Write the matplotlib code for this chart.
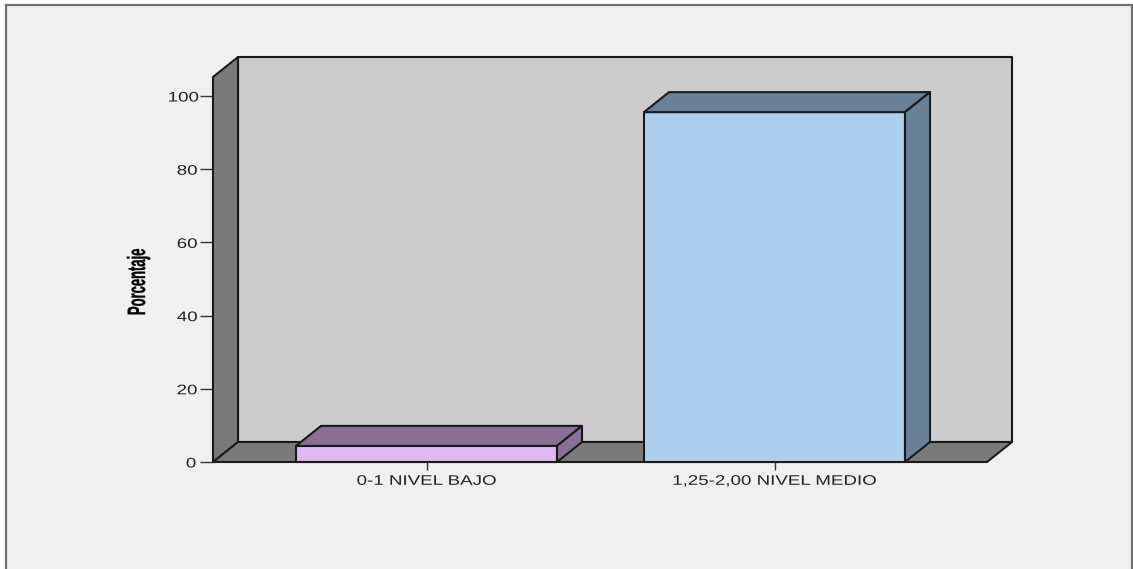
#!/usr/bin/env python3
# -*- encoding: utf-8 -*-

import matplotlib
matplotlib.use('Agg')
import matplotlib.pyplot as plt
from matplotlib.patches import Polygon, Rectangle
from matplotlib.patheffects import AbstractPathEffect
from matplotlib.transforms import Affine2D

W, H = 1133, 569

categories = ['0-1 NIVEL BAJO', '1,25-2,00 NIVEL MEDIO']
percent = [4.4, 95.6]
y_ticks = [0, 20, 40, 60, 80, 100]

front_colors = ['#E0B8F2', '#ADCFEE']
top_colors = ['#8A7094', '#6A8098']
wall_color = '#CCCCCC'
side_wall_color = '#7A7A7A'
panel_color = '#F0F0F0'
edge = '#1A1A1A'

plt.rcParams['font.family'] = ['Liberation Sans', 'DejaVu Sans']

# the original picture was resized unevenly, so glyphs get stretched along the text
class Stretch(AbstractPathEffect):
    def __init__(self, sx, stroke = 0):
        super().__init__()
        self.sx = sx
        self.stroke = stroke

    def draw_path(self, renderer, gc, tpath, affine, rgbFace = None):
        box = tpath.get_extents()
        cx = (box.x0 + box.x1) / 2
        local = Affine2D().translate(-cx, 0).scale(self.sx, 1).translate(cx, 0)
        gc.set_linewidth(self.stroke)
        renderer.draw_path(gc, tpath, local + affine, rgbFace)

fig = plt.figure(figsize = (W / 100, H / 100), dpi = 100, facecolor = 'white')

# outer panel, open at the bottom of the picture
fig.add_artist(Rectangle((6 / W, -0.02), (1132 - 6) / W, 1.02 - 5 / H, transform = fig.transFigure,
                         facecolor = panel_color, edgecolor = '#707070', linewidth = 1.6, zorder = -1))

ax = fig.add_axes([213 / W, 1 - 462 / H, (987 - 213) / W, (462 - 77) / H])
ax.set_xlim(-0.6135, 1.6106)
ax.set_ylim(0, 105.2)
ax.patch.set_visible(False)
for s in ax.spines.values():
    s.set_visible(False)

# depth of the fake 3d box, in data units
xmin, xmax = ax.get_xlim()
ymax = ax.get_ylim()[1]
dx = 25 / 348
dy = 20 / 3.66
bar_w = 0.75

def face(points, color, z):
    ax.add_patch(Polygon(points, closed = True, facecolor = color, edgecolor = edge,
                         linewidth = 1.5, joinstyle = 'round', clip_on = False, zorder = z))

face([(xmin + dx, dy), (xmax + dx, dy), (xmax + dx, ymax + dy), (xmin + dx, ymax + dy)], wall_color, 1)
face([(xmin, 0), (xmin + dx, dy), (xmin + dx, ymax + dy), (xmin, ymax)], side_wall_color, 2)
face([(xmin, 0), (xmax, 0), (xmax + dx, dy), (xmin + dx, dy)], side_wall_color, 2)

for i, val in enumerate(percent):
    x0, x1 = i - bar_w / 2, i + bar_w / 2
    face([(x0, 0), (x1, 0), (x1, val), (x0, val)], front_colors[i], 3)
    face([(x0, val), (x1, val), (x1 + dx, val + dy), (x0 + dx, val + dy)], top_colors[i], 3)
    face([(x1, 0), (x1 + dx, dy), (x1 + dx, val + dy), (x1, val)], top_colors[i], 3)

ax.set_xticks(range(len(categories)), categories, fontsize = 10, color = '#222222')
ax.set_yticks(y_ticks, [str(t) for t in y_ticks], fontsize = 10, color = '#222222')
ax.tick_params(axis = 'x', length = 5.5, width = 1, color = '#333333', pad = 3)
ax.tick_params(axis = 'y', length = 9.5, width = 1, color = '#333333', pad = 3.5)
for lab in ax.get_xticklabels() + ax.get_yticklabels():
    lab.set_path_effects([Stretch(1.35)])

fig.text(145 / W, 1 - 282 / H, 'Porcentaje', rotation = 90, ha = 'center', va = 'baseline',
         rotation_mode = 'anchor', fontsize = 18, fontweight = 'bold', color = 'black',
         path_effects = [Stretch(0.52, stroke = 0.25)])

plt.savefig('out.png', dpi = 100, facecolor = 'white')
